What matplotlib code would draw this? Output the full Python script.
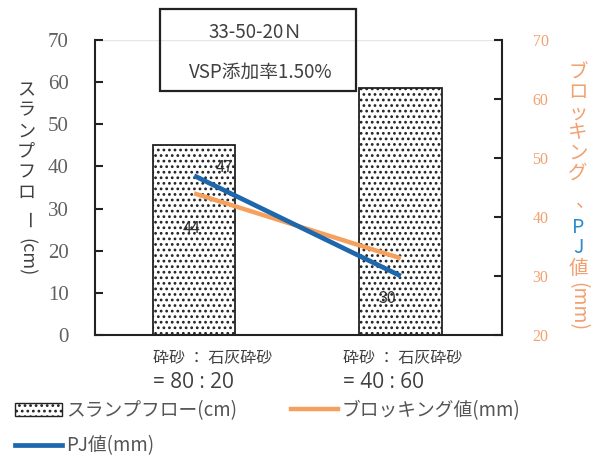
import matplotlib
matplotlib.use("Agg")
import matplotlib.pyplot as plt
from matplotlib.patches import Rectangle
from matplotlib.lines import Line2D

plt.rcParams['font.family'] = ['Noto Sans CJK JP', 'DejaVu Sans']
plt.rcParams['hatch.linewidth'] = 1.2
plt.rcParams['hatch.color'] = '#222222'

# --- data ---
categories_line1 = ["砕砂 ： 石灰砕砂", "砕砂 ： 石灰砕砂"]
categories_line2 = ["= 80 : 20", "= 40 : 60"]
slump_flow = [45, 58.5]          # cm (left axis)
blocking = [44, 33]              # mm (right axis)
pj_value = [47, 30]              # mm (right axis)
left_ticks = [0, 10, 20, 30, 40, 50, 60, 70]
right_ticks = [20, 30, 40, 50, 60, 70]
legend_labels = ["スランプフロー(cm)", "PJ値(mm)", "ブロッキング値(mm)"]
box_lines = ["33-50-20Ｎ", "VSP添加率1.50%"]

W, H = 601, 462
BLUE = '#1e67ad'
ORANGE = '#f5a05c'
ORANGE_TXT = '#f2a070'
SERIF = ['Liberation Serif', 'DejaVu Serif']

fig = plt.figure(figsize=(W / 100, H / 100), dpi=100)
ax = fig.add_axes([95 / W, 1 - 335 / H, (502 - 95) / W, (335 - 40) / H])
ax2 = ax.twinx()

x = list(range(len(slump_flow)))
ax.bar(x, slump_flow, width=0.40, color='white', edgecolor='#222222',
       hatch='...', linewidth=1.3, zorder=2, label=legend_labels[0])
ax.set_xlim(-0.48, 1.49)
ax.set_ylim(0, 70)
ax.set_yticks(left_ticks)

ax2.set_ylim(20, 70)
ax2.set_yticks(right_ticks)
l_block, = ax2.plot(x, blocking, color=ORANGE, lw=3.2, solid_capstyle='butt', zorder=3)
l_pj, = ax2.plot(x, pj_value, color=BLUE, lw=3.4, solid_capstyle='butt', zorder=4)

# spines
for s in ['top', 'right']:
    ax.spines[s].set_visible(False)
for s in ['left', 'bottom']:
    ax.spines[s].set_linewidth(1.5)
    ax.spines[s].set_color('#222222')
for s in ['top', 'left', 'bottom']:
    ax2.spines[s].set_visible(False)
ax2.spines['right'].set_linewidth(1.5)
ax2.spines['right'].set_color('#222222')
ax.axhline(70, color='#e6e6e6', lw=1.0, zorder=0)

ax.tick_params(axis='x', length=0, labelbottom=False)
ax.tick_params(axis='y', direction='in', length=6, width=1.5, color='#222222',
               labelsize=15, labelcolor='#606060', pad=19)
ax2.tick_params(axis='y', direction='in', length=6, width=1.5, color='#222222',
                labelsize=11.5, labelcolor=ORANGE_TXT, pad=22)
for lbl in ax.get_yticklabels() + ax2.get_yticklabels():
    lbl.set_fontfamily(SERIF)

# data labels on the lines
label_style = dict(fontsize=11.5, color='#333333', textcoords='offset points',
                   ha='center', va='center', zorder=5)
ax2.annotate(str(pj_value[0]), (x[0], pj_value[0]), xytext=(22, 6), **label_style)
ax2.annotate(str(blocking[0]), (x[0], blocking[0]), xytext=(-2, -25), **label_style)
ax2.annotate(str(pj_value[1]), (x[1], pj_value[1]), xytext=(-10, -16), **label_style)

# category labels under the bars
cat_dx = [-41.5, -58]   # pixels from bar centre to label start
for i in x:
    ax.annotate(categories_line1[i], (x[i], 0), xycoords=('data', 'axes fraction'),
                xytext=(cat_dx[i] * 0.72, -23 * 0.72), textcoords='offset points',
                ha='left', va='center', fontsize=11.5, color='#404040',
                annotation_clip=False)
    ax.annotate(categories_line2[i], (x[i], 0), xycoords=('data', 'axes fraction'),
                xytext=(cat_dx[i] * 0.72, -48 * 0.72), textcoords='offset points',
                ha='left', va='center', fontsize=15, color='#404040',
                family=['Open Sans', 'DejaVu Sans'], annotation_clip=False)

# vertical axis titles
def stack_text(xc, y_top, items, size, family=None):
    y = y_top
    for s, color, rot, h, dx in items:
        kw = {}
        if family:
            kw['family'] = family
        fig.text((xc + dx) / W, 1 - (y + h / 2) / H, s, color=color, rotation=rot,
                 ha='center', va='center', fontsize=size, **kw)
        y += h

left_items = [(c, '#404040', 0, 20.5, 0) for c in "スランプフロ"]
left_items += [("ー", '#404040', -90, 34, 0), ("(cm)", '#404040', -90, 40, 0)]
stack_text(26, 80, left_items, 13)

right_items = [(c, ORANGE_TXT, 0, 20, 0) for c in "ブロッキング"]
right_items += [("、", ORANGE_TXT, 0, 36, 8)]
right_items += [("P", '#2b8ad0', 0, 18, 0), ("J", '#2b8ad0', 0, 20, 0),
                ("値", ORANGE_TXT, 0, 24, 0), ("(mm)", ORANGE_TXT, -90, 52, 0)]
stack_text(578, 63, right_items, 14)

# condition box
fig.patches.append(Rectangle((160 / W, 1 - 91 / H), (356 - 160) / W, (91 - 9) / H,
                             transform=fig.transFigure, fill=False,
                             edgecolor='#222222', lw=1.6, zorder=10))
fig.text(255 / W, 1 - 33 / H, box_lines[0], ha='center', va='center',
         fontsize=13.5, color='#404040')
fig.text(261 / W, 1 - 72 / H, box_lines[1], ha='center', va='center',
         fontsize=13.5, color='#404040')

# legend
h_slump = Rectangle((0, 0), 1, 1, facecolor='white', edgecolor='#222222',
                    hatch='...', lw=1.0)
h_pj = Line2D([], [], color=BLUE, lw=3.4)
h_block = Line2D([], [], color=ORANGE, lw=3.2)
fig.legend([h_slump, h_pj, h_block], legend_labels, ncol=2, frameon=False,
           loc='upper left', bbox_to_anchor=(15 / W, 1 - 400 / H),
           fontsize=13.5, labelcolor='#555555', handlelength=2.5,
           handletextpad=0.2, columnspacing=2.9, labelspacing=0.75,
           borderaxespad=0, borderpad=0)

fig.savefig('out.png', dpi=100)
